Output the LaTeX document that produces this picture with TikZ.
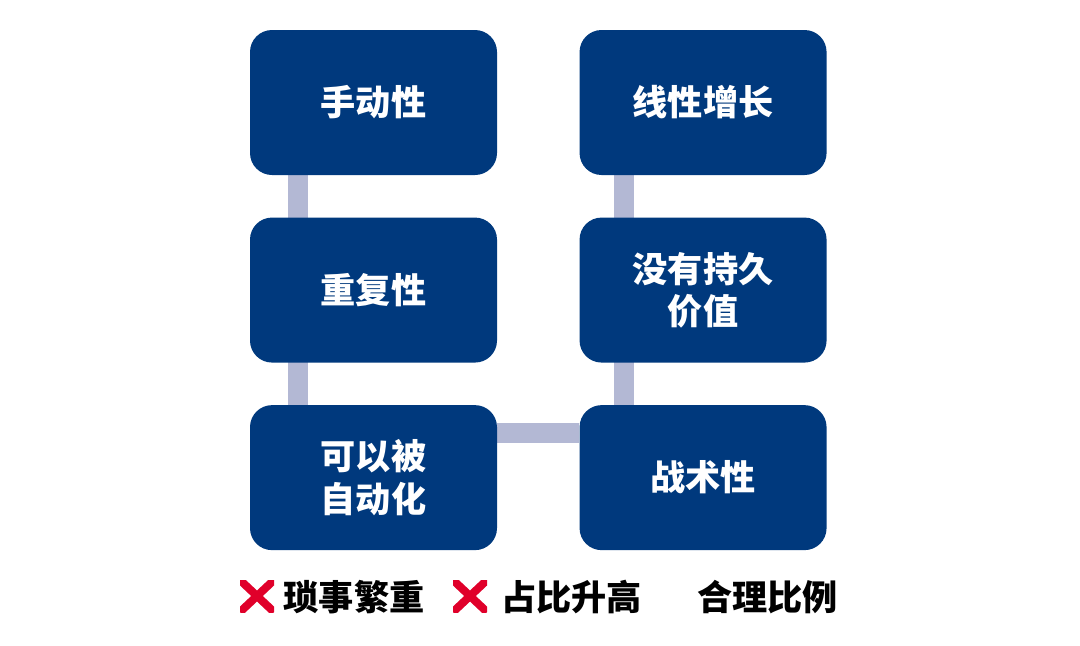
\documentclass[tikz,border=0pt]{standalone}
\usepackage{fontspec}
\usepackage{tikz}
\usetikzlibrary{positioning,calc,backgrounds}
\newfontfamily\cjk{Noto Sans CJK SC}
\definecolor{boxblue}{RGB}{0,57,125}
\definecolor{linkgray}{RGB}{179,184,212}
\definecolor{crossred}{RGB}{224,0,42}

\begin{document}
\begin{tikzpicture}[
    node distance=1.05cm and 2.05cm,
    trait/.style={fill=boxblue, rounded corners=0.55cm, minimum width=6.175cm,
                  minimum height=3.625cm, text=white, align=center,
                  font=\cjk\bfseries\fontsize{25}{30}\selectfont},
    link/.style={linkgray, line width=0.5cm},
    legend/.style={font=\cjk\bfseries\fontsize{25}{30}\selectfont, inner sep=0pt},
    crossmark/.style={minimum width=0.85cm, minimum height=0.8cm, inner sep=0pt,
      path picture={
        \draw[crossred, line width=0.2cm]
          (path picture bounding box.north west) -- (path picture bounding box.south east)
          (path picture bounding box.north east) -- (path picture bounding box.south west);
      }},
  ]
    \useasboundingbox (0,0) rectangle (27,-16.125);

    % Left column
    \node[trait] (manual) at (9.3375,-2.5625) {手动性};
    \node[trait, below=of manual] (repeat) {重复性};
    \node[trait, below=of repeat] (auto) {可以被\\自动化};

    % Right column
    \node[trait, right=of manual] (linear) {线性增长};
    \node[trait, below=of linear] (lasting) {没有持久\\价值};
    \node[trait, below=of lasting] (tactic) {战术性};

    % Links behind the boxes
    \begin{scope}[on background layer]
      \draw[link] ($(manual.south west)+(1.2,0)$) -- ($(auto.north west)+(1.2,0)$);
      \draw[link] ($(linear.south west)+(1.125,0)$) -- ($(tactic.north west)+(1.125,0)$);
      \draw[link] ($(auto.north east)+(0,-0.7)$) -- ($(tactic.north west)+(0,-0.7)$);
    \end{scope}

    % Legend
    \node[crossmark] (x1) at (6.425,-14.9) {};
    \node[legend] (trivial) at (8.85,-14.925) {琐事繁重};
    \node[crossmark] (x2) at (11.75,-14.9) {};
    \node[legend] (share) at (14.29,-14.925) {占比升高};
    \node[legend] (ratio) at (19.19,-14.925) {合理比例};
  \end{tikzpicture}
\end{document}
